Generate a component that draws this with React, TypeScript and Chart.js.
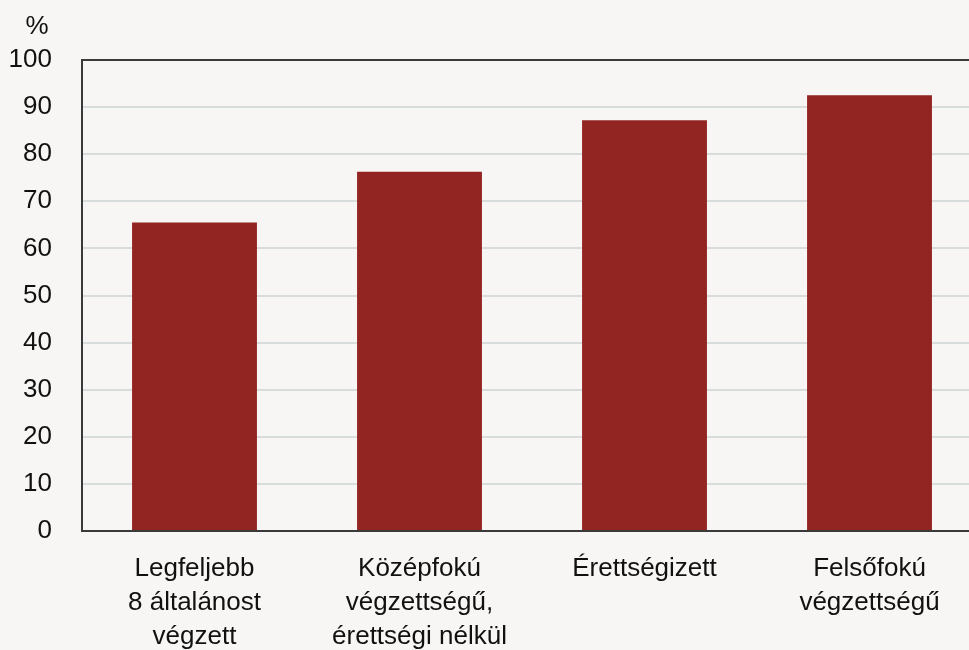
import React, { useEffect, useRef } from "react";
import { Chart, registerables } from "chart.js";

Chart.register(...registerables);

const categories: (string | string[])[] = [
  ["Legfeljebb", "8 általánost", "végzett"],
  ["Középfokú", "végzettségű,", "érettségi nélkül"],
  ["Érettségizett"],
  ["Felsőfokú", "végzettségű"],
];
const values = [65.5, 76.3, 87.2, 92.5];
const yTicks = [0, 10, 20, 30, 40, 50, 60, 70, 80, 90, 100];
const unitLabel = "%";

const FONT = '"Liberation Sans", Arial, sans-serif';
const BG = "#f7f6f4";

export default function App() {
  const ref = useRef<HTMLCanvasElement | null>(null);
  useEffect(() => {
    if (!ref.current) return;
    const unitPlugin = {
      id: "unitLabel",
      afterDraw(chart: any) {
        const ctx = chart.ctx;
        ctx.save();
        ctx.font = `26px ${FONT}`;
        ctx.fillStyle = "#111111";
        ctx.textAlign = "center";
        ctx.textBaseline = "alphabetic";
        ctx.fillText(unitLabel, 37, 34);
        ctx.restore();
      },
    };
    const chart = new Chart(ref.current, {
      type: "bar",
      data: {
        labels: categories,
        datasets: [
          {
            data: values,
            backgroundColor: "#922422",
            borderWidth: 0,
            barPercentage: 0.555,
            categoryPercentage: 1,
          },
        ],
      },
      options: {
        animation: false,
        responsive: false,
        maintainAspectRatio: false,
        layout: { padding: { top: 60, right: 8, left: 0, bottom: 0 } },
        plugins: {
          legend: { display: false },
          tooltip: { enabled: false },
        },
        scales: {
          x: {
            grid: { display: false, drawTicks: false },
            border: { display: true, color: "#3a3a3a", width: 2 },
            ticks: {
              color: "#111111",
              font: { family: FONT, size: 26, lineHeight: 1.3 },
              padding: 21,
              maxRotation: 0,
              autoSkip: false,
            },
            afterFit(scale: any) {
              scale.height = 119;
            },
          },
          y: {
            min: 0,
            max: 100,
            afterBuildTicks(scale: any) {
              scale.ticks = yTicks.map((v) => ({ value: v }));
            },
            grid: {
              drawTicks: false,
              color: (c: any) => (c.tick && c.tick.value === 100 ? "#3a3a3a" : "#d9dcdd"),
              lineWidth: 2,
            },
            border: { display: true, color: "#3a3a3a", width: 2 },
            ticks: {
              color: "#111111",
              font: { family: FONT, size: 26 },
              padding: 30,
            },
            afterFit(scale: any) {
              scale.width = 82;
            },
          },
        },
      },
      plugins: [unitPlugin],
    });
    return () => chart.destroy();
  }, []);
  return (
    <div
      style={{
        position: "fixed",
        left: 0,
        top: 0,
        width: 969,
        height: 650,
        overflow: "hidden",
        background: BG,
      }}
    >
      <canvas ref={ref} width={990} height={650} style={{ display: "block" }} />
    </div>
  );
}
